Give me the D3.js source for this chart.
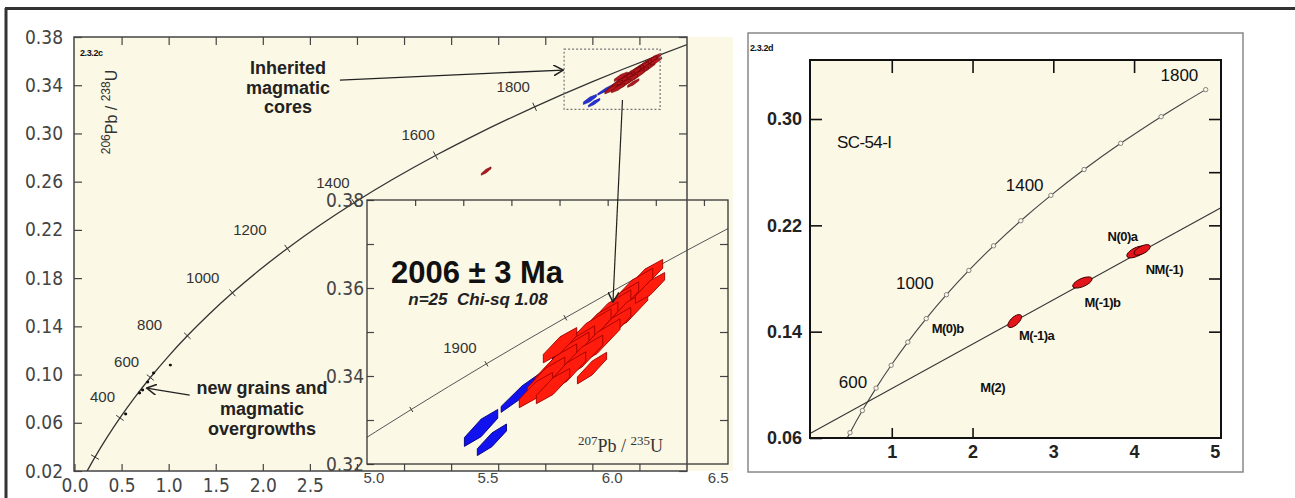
<!DOCTYPE html>
<meta charset="utf-8">
<script src="https://d3js.org/d3.v7.min.js"></script>
<style>
	body{
		margin:0;
		background:#fff;
		font-family:'Liberation Sans', Arial, sans-serif;
	}
	.ax line{ stroke:#444; stroke-width:1.2; }
	.rax line{ stroke:#111; stroke-width:1.6; }
</style>
<svg id="chart" width="1295" height="498"></svg>

<script>
	// concordia points (age in Ma, 207Pb/235U, 206Pb/238U)
	var concAge = [100,200,300,400,500,600,700,800,900,1000,1100,1200,1300,1400,1500,1600,1700,1750,1800,1850,1900,1950,2000,2050,2100]
	var concX = [0.1035,0.2177,0.3437,0.4828,0.6363,0.8056,0.9925,1.1987,1.4263,1.6774,1.9545,2.2603,2.5977,2.9701,3.3810,3.8344,4.3348,4.6040,4.8869,5.1840,5.4962,5.8241,6.1685,6.5303,6.9105]
	var concY = [0.01563,0.03151,0.04764,0.06402,0.08065,0.09754,0.11470,0.13213,0.14983,0.16780,0.18606,0.20460,0.22344,0.24256,0.26199,0.28172,0.30176,0.31189,0.32211,0.33240,0.34277,0.35323,0.36377,0.37439,0.38509]

	// left panel
	var mainTickAges = [200,400,600,800,1000,1200,1400,1600,1800]
	var mainLabels = ["400","600","800","1000","1200","1400","1600","1800"]
	var mainLabelX = [0.298,0.553,0.798,1.362,1.862,2.745,3.649,4.660]
	var mainLabelY = [0.0814,0.1104,0.1411,0.1801,0.2199,0.2589,0.2987,0.3385]
	var mainYTicks = [0.02,0.06,0.10,0.14,0.18,0.22,0.26,0.30,0.34,0.38]
	var mainXTicks = [0,0.5,1.0,1.5,2.0,2.5,3.0,3.5,4.0,4.5,5.0,5.5,6.0]

	// grains: [207/235, 206/238, sx, sy, rho]
	var newGrains = [[0.543,0.0673],[0.691,0.0847],[0.723,0.0872],[0.777,0.0938],[0.840,0.1013],[1.018,0.1079]]
	var blueGrains = [
		[5.474,0.3282,0.080,0.0042,0.88],
		[5.519,0.3255,0.070,0.0036,0.90],
		[5.644,0.3364,0.100,0.0048,0.96],
		[5.831,0.3470,0.070,0.0035,0.90]
	]
	var redGrains = [
		[6.155,0.3623,0.085,0.0042,0.88],
		[6.101,0.3595,0.100,0.0050,0.89],
		[6.051,0.3568,0.090,0.0046,0.89],
		[6.001,0.3541,0.110,0.0055,0.90],
		[5.956,0.3518,0.100,0.0050,0.89],
		[5.910,0.3493,0.120,0.0060,0.90],
		[5.868,0.3468,0.090,0.0046,0.89],
		[5.827,0.3445,0.110,0.0055,0.90],
		[5.785,0.3423,0.100,0.0050,0.89],
		[5.744,0.3398,0.090,0.0045,0.89],
		[5.702,0.3368,0.080,0.0040,0.88],
		[6.080,0.3545,0.100,0.0050,0.89],
		[6.018,0.3511,0.090,0.0045,0.89],
		[5.956,0.3475,0.110,0.0055,0.90],
		[5.893,0.3443,0.100,0.0050,0.89],
		[5.831,0.3409,0.090,0.0046,0.89],
		[5.773,0.3377,0.080,0.0040,0.88],
		[5.935,0.3418,0.070,0.0036,0.90],
		[5.802,0.3470,0.080,0.0040,0.88],
		[6.176,0.3600,0.070,0.0035,0.88],
		[4.372,0.2688,0.060,0.0035,0.90]
	]

	// inset
	var insetTickAges = [1850,1900,1950,2000]
	var insetYTicks = [0.32,0.33,0.34,0.35,0.36,0.37,0.38]
	var insetXLabels = [5.0,5.5,6.0,6.5]
	var insetTopTicks = [5.2,5.4,5.6,5.8,6.0,6.2,6.4]

	// right panel
	var rightDotAges = [400,500,600,700,800,900,1000,1100,1200,1300,1400,1500,1600,1700,1800]
	var rightAgeLabels = ["1800","1400","1000","600"]
	var rightAgeLabelX = [4.561,2.645,1.286,0.519]
	var rightAgeLabelY = [0.3331,0.2504,0.1766,0.1021]
	var rightGrainNames = ["N(0)a","NM(-1)","M(-1)b","M(-1)a","M(0)b","M(2)"]
	var rightGrainLabelX = [3.857,4.376,3.609,2.794,1.693,2.250]
	var rightGrainLabelY = [0.2120,0.1872,0.1623,0.1375,0.1428,0.0984]
	var rightGrains = [
		[2.522,0.1480,0.085,0.0049,0.65],
		[3.360,0.1770,0.120,0.0042,0.62],
		[4.030,0.2000,0.120,0.0045,0.62],
		[4.100,0.2015,0.100,0.0040,0.62]
	]
	var discordia = [[0,0.0638],[5.07,0.2331]]
	var rightYTicks = [0.06,0.14,0.22,0.30]
	var rightYTicksR = [0.14,0.18,0.22,0.26,0.30]
	var rightXTicks = [1,2,3,4,5]

	var cream = "#fcf8e6"
	var svg = d3.select("#chart")
	var defs = svg.append("defs")
	defs.append("marker").attr("id","arr").attr("viewBox","0 0 10 10").attr("refX",9).attr("refY",5)
		.attr("markerWidth",11).attr("markerHeight",11).attr("markerUnits","userSpaceOnUse").attr("orient","auto")
		.append("path").attr("d","M0,0L9,5L0,10").attr("fill","none").attr("stroke","#222").attr("stroke-width",1.4)

	function hexPath(g,xs,ys,n,phase){
		var s = Math.sqrt(1-g[4]*g[4])
		var pts = d3.range(n).map(function(i){
			var t = phase+i*2*Math.PI/n
			return [xs(g[0]+g[2]*Math.cos(t)), ys(g[1]+g[3]*(g[4]*Math.cos(t)+s*Math.sin(t)))]
		})
		return pts
	}
	function concLine(xs,ys,maxAge){
		var idx = d3.range(concAge.length).filter(function(i){return concAge[i]<=maxAge})
		return d3.line().x(function(i){return xs(concX[i])}).y(function(i){return ys(concY[i])})
			.curve(d3.curveCatmullRom)(idx)
	}
	function concTick(g,xs,ys,age,len){
		var i = concAge.indexOf(age)
		var dx = xs(concX[i+1])-xs(concX[i-1]), dy = ys(concY[i+1])-ys(concY[i-1])
		var l = Math.sqrt(dx*dx+dy*dy), nx = -dy/l*len, ny = dx/l*len
		var px = xs(concX[i]), py = ys(concY[i])
		g.append("line").attr("x1",px-nx).attr("y1",py-ny).attr("x2",px+nx).attr("y2",py+ny)
			.attr("stroke","#333").attr("stroke-width",1)
	}
	function text(g,x,y,str,size,opts){
		opts = opts||{}
		return g.append("text").attr("x",x).attr("y",y).text(str)
			.attr("font-size",size).attr("text-anchor",opts.anchor||"middle")
			.attr("font-weight",opts.weight||"normal").attr("font-style",opts.style||"normal")
			.attr("font-family",opts.family||"'Liberation Sans', Arial, sans-serif")
			.attr("fill",opts.fill||"#222")
	}

	// outer frame
	svg.append("line").attr("x1",5).attr("x2",1295).attr("y1",8.5).attr("y2",8.5).attr("stroke","#333").attr("stroke-width",3)
	svg.append("line").attr("x1",6).attr("x2",6).attr("y1",8).attr("y2",498).attr("stroke","#333").attr("stroke-width",3)

	// ---------------- left panel ----------------
	var mx = d3.scaleLinear().domain([0,6.5]).range([74.5,686.5])
	var my = d3.scaleLinear().domain([0.02,0.38]).range([471,37])
	var narrow = "'Liberation Sans Narrow','DejaVu Sans Condensed', sans-serif"

	svg.append("rect").attr("x",74).attr("y",37).attr("width",659).attr("height",434).attr("fill",cream)
	defs.append("clipPath").attr("id","mclip").append("rect").attr("x",74).attr("y",37).attr("width",613).attr("height",434)
	var main = svg.append("g")

	var yAxisL = d3.axisLeft(my).tickValues(mainYTicks).tickFormat(d3.format(".2f")).tickSize(-8).tickPadding(11)
	main.append("g").attr("class","ax").attr("transform","translate(74,0)").call(yAxisL)
	var yAxisR = d3.axisRight(my).tickValues(mainYTicks).tickFormat("").tickSize(-8)
	main.append("g").attr("class","ax").attr("transform","translate(687,0)").call(yAxisR)
	var xAxisT = d3.axisTop(mx).tickValues(mainXTicks.slice(1)).tickFormat("").tickSize(-8)
	main.append("g").attr("class","ax").attr("transform","translate(0,37)").call(xAxisT)
	var xAxisB = d3.axisBottom(mx).tickValues(mainXTicks)
		.tickFormat(function(d){return d<=2.5 ? d3.format(".1f")(d) : ""}).tickSize(-7).tickPadding(8)
	main.append("g").attr("class","ax").attr("transform","translate(0,471)").call(xAxisB)
	main.selectAll(".ax .domain").remove()
	main.selectAll(".ax text").attr("font-family",narrow).attr("font-size",19).attr("fill","#444")

	var mplot = main.append("g").attr("clip-path","url(#mclip)")
	mplot.append("path").attr("d",concLine(mx,my,2100)).attr("fill","none").attr("stroke","#333").attr("stroke-width",1.3)
	mainTickAges.forEach(function(a){ concTick(mplot,mx,my,a,4.5) })
	mainLabels.forEach(function(l,i){
		text(mplot,mx(mainLabelX[i]),my(mainLabelY[i])+5,l,15,{fill:"#333"})
	})
	mplot.selectAll(".ng").data(newGrains).enter().append("ellipse")
		.attr("cx",function(d){return mx(d[0])}).attr("cy",function(d){return my(d[1])})
		.attr("rx",1.6).attr("ry",1.4).attr("fill","#111")
	mplot.selectAll(".mb").data(blueGrains).enter().append("path")
		.attr("d",function(d){return "M"+hexPath(d,mx,my,6,Math.PI/6).join("L")+"Z"})
		.attr("fill","#2233d6").attr("stroke","#000088").attr("stroke-width",0.5)
	mplot.selectAll(".mr").data(redGrains).enter().append("path")
		.attr("d",function(d){return "M"+hexPath(d,mx,my,6,Math.PI/6).join("L")+"Z"})
		.attr("fill","#b3161c").attr("stroke","#5a0000").attr("stroke-width",0.5)

	// dotted box
	mplot.append("rect").attr("x",mx(5.2)).attr("y",my(0.37)).attr("width",mx(6.22)-mx(5.2)).attr("height",my(0.32)-my(0.37))
		.attr("fill","none").attr("stroke","#777").attr("stroke-width",1.2).attr("stroke-dasharray","2,2")

	// annotations
	var ann = [["Inherited",74],["magmatic",94],["cores",113]]
	ann.forEach(function(a){ text(main,288,a[1],a[0],18,{weight:"bold"}) })
	main.append("line").attr("x1",mx(2.819)).attr("y1",my(0.3443)).attr("x2",mx(5.191)).attr("y2",my(0.3526))
		.attr("stroke","#222").attr("stroke-width",1.3).attr("marker-end","url(#arr)")
	var ann2 = [["new grains and",394],["magmatic",415],["overgrowths",435]]
	ann2.forEach(function(a){ text(main,262,a[1],a[0],18,{weight:"bold"}) })
	main.append("line").attr("x1",mx(1.223)).attr("y1",my(0.083)).attr("x2",mx(0.766)).attr("y2",my(0.0888))
		.attr("stroke","#222").attr("stroke-width",1.3).attr("marker-end","url(#arr)")

	text(main,80,56,"2.3.2c",9,{anchor:"start",weight:"bold",fill:"#111"}).attr("letter-spacing",-0.4)
	var yl = main.append("text").attr("transform","translate(117,112) rotate(-90)").attr("text-anchor","middle")
		.attr("fill","#333").attr("font-size",16)
	yl.append("tspan").text("206").attr("font-size",12).attr("dy",-7)
	yl.append("tspan").text("Pb / ").attr("dy",7)
	yl.append("tspan").text("238").attr("font-size",12).attr("dy",-7)
	yl.append("tspan").text("U").attr("dy",7)

	// ---------------- inset ----------------
	var ix = d3.scaleLinear().domain([5.0,6.5]).range([367,728])
	var iy = d3.scaleLinear().domain([0.32,0.38]).range([464,200])
	var inset = svg.append("g")
	inset.append("rect").attr("x",367).attr("y",200).attr("width",361).attr("height",264).attr("fill",cream)
	defs.append("clipPath").attr("id","iclip").append("rect").attr("x",367).attr("y",200).attr("width",361).attr("height",264)

	var iyl = d3.axisLeft(iy).tickValues(insetYTicks)
		.tickFormat(function(d){return Math.round(d*100)%2==0 ? d3.format(".2f")(d) : ""}).tickSize(-7).tickPadding(3)
	inset.append("g").attr("class","ax").attr("transform","translate(367,0)").call(iyl)
	inset.append("g").attr("class","ax").attr("transform","translate(728,0)")
		.call(d3.axisRight(iy).tickValues(insetYTicks.slice(1,-1)).tickFormat("").tickSize(-8))
	inset.append("g").attr("class","ax").attr("transform","translate(0,200)")
		.call(d3.axisTop(ix).tickValues(insetTopTicks).tickFormat("").tickSize(-6))
	var ixl = inset.append("g").attr("class","ax").attr("transform","translate(0,471)")
		.call(d3.axisBottom(ix).tickValues(insetXLabels).tickFormat(d3.format(".1f")).tickSize(0).tickPadding(1))
	ixl.selectAll("text").attr("text-anchor",function(d){return d==5 ? "start" : d==6.5 ? "end" : "middle"})
		.attr("dx",function(d){return d==5 ? -4 : d==6 ? 4 : 0})
	inset.selectAll(".ax .domain").remove()
	inset.selectAll(".ax text").attr("font-size",15).attr("fill","#444")
	inset.selectAll(".ax text").filter(function(d){return d<1}).attr("font-family",narrow).attr("font-size",19)

	var iplot = inset.append("g").attr("clip-path","url(#iclip)")
	iplot.append("path").attr("d",concLine(ix,iy,2100)).attr("fill","none").attr("stroke","#555").attr("stroke-width",1)
	insetTickAges.forEach(function(a){ concTick(iplot,ix,iy,a,3) })
	iplot.selectAll(".ib").data(blueGrains).enter().append("path")
		.attr("d",function(d){return "M"+hexPath(d,ix,iy,6,Math.PI/6).join("L")+"Z"})
		.attr("fill","#1212ee").attr("stroke","#00007a").attr("stroke-width",0.9)
	iplot.selectAll(".ir").data(redGrains).enter().append("path")
		.attr("d",function(d){return "M"+hexPath(d,ix,iy,6,Math.PI/6).join("L")+"Z"})
		.attr("fill","#ff1c0c").attr("stroke","#a00000").attr("stroke-width",0.9)
	inset.append("rect").attr("x",367).attr("y",200).attr("width",361).attr("height",264)
		.attr("fill","none").attr("stroke","#333").attr("stroke-width",1.3)

	text(inset,ix(5.386),iy(0.3464)+5,"1900",15,{fill:"#333"})
	text(inset,477,283,"2006 ± 3 Ma",31,{weight:"bold",fill:"#111"})
	text(inset,478,305,"n=25  Chi-sq 1.08",17,{weight:"bold",style:"italic",fill:"#222"}).style("white-space","pre")
	var xl = inset.append("text").attr("x",578).attr("y",452).attr("font-family","'Liberation Serif', serif")
		.attr("font-size",18).attr("fill","#333")
	xl.append("tspan").text("207").attr("font-size",13).attr("dy",-7)
	xl.append("tspan").text("Pb / ").attr("dy",7)
	xl.append("tspan").text("235").attr("font-size",13).attr("dy",-7)
	xl.append("tspan").text("U").attr("dy",7)

	// left panel frame on top
	svg.append("rect").attr("x",74).attr("y",37).attr("width",613).attr("height",434)
		.attr("fill","none").attr("stroke","#444").attr("stroke-width",1.5)
	svg.append("line").attr("x1",mx(5.82)).attr("y1",my(0.3277)).attr("x2",ix(6.022)).attr("y2",iy(0.3568))
		.attr("stroke","#222").attr("stroke-width",1.2).attr("marker-end","url(#arr)")

	// ---------------- right panel ----------------
	var rx = d3.scaleLinear().domain([0,5.07]).range([811,1220.5])
	var ry = d3.scaleLinear().domain([0.06,0.3444]).range([438,60])
	svg.append("rect").attr("x",748).attr("y",33).attr("width",495).attr("height",439)
		.attr("fill","#fff").attr("stroke","#888").attr("stroke-width",1.5)
	svg.append("rect").attr("x",810).attr("y",60).attr("width",411).attr("height",378).attr("fill",cream)
	defs.append("clipPath").attr("id","rclip").append("rect").attr("x",810).attr("y",60).attr("width",411).attr("height",378)
	var right = svg.append("g")
	right.append("g").attr("class","rax").attr("transform","translate(810,0)")
		.call(d3.axisLeft(ry).tickValues(rightYTicks).tickFormat(d3.format(".2f")).tickSize(-12).tickPadding(8))
	right.append("g").attr("class","rax").attr("transform","translate(1221,0)")
		.call(d3.axisRight(ry).tickValues(rightYTicksR).tickFormat("").tickSize(-12))
	right.append("g").attr("class","rax").attr("transform","translate(0,60)")
		.call(d3.axisTop(rx).tickValues(rightXTicks.slice(0,4)).tickFormat("").tickSize(-13))
	right.append("g").attr("class","rax").attr("transform","translate(0,438)")
		.call(d3.axisBottom(rx).tickValues(rightXTicks.slice(0,2)).tickFormat("").tickSize(-10))
	right.append("g").attr("class","rax").attr("transform","translate(0,438)")
		.call(d3.axisBottom(rx).tickValues(rightXTicks).tickFormat(d3.format("d")).tickSize(0).tickPadding(7))
	right.selectAll(".rax .domain").remove()
	right.selectAll(".rax text").attr("font-size",18).attr("font-weight","bold").attr("fill","#222")

	var rplot = right.append("g").attr("clip-path","url(#rclip)")
	rplot.append("path").attr("d",concLine(rx,ry,1800)).attr("fill","none").attr("stroke","#444").attr("stroke-width",1.1)
	rplot.append("path").attr("d",d3.line().x(function(d){return rx(d[0])}).y(function(d){return ry(d[1])})(discordia))
		.attr("fill","none").attr("stroke","#333").attr("stroke-width",1.1)
	rplot.selectAll(".rd").data(rightDotAges).enter().append("circle")
		.attr("cx",function(a){return rx(concX[concAge.indexOf(a)])}).attr("cy",function(a){return ry(concY[concAge.indexOf(a)])})
		.attr("r",2.2).attr("fill",cream).attr("stroke","#777").attr("stroke-width",0.9)
	rplot.selectAll(".rg").data(rightGrains).enter().append("path")
		.attr("d",function(d){return d3.line().curve(d3.curveCardinalClosed)(hexPath(d,rx,ry,24,0))})
		.attr("fill","#e3141a").attr("stroke","#3a0000").attr("stroke-width",1)
	rightAgeLabels.forEach(function(l,i){
		text(right,rx(rightAgeLabelX[i]),ry(rightAgeLabelY[i])+6,l,17,{fill:"#111"})
	})
	text(right,837,148,"SC-54-I",17,{anchor:"start",fill:"#111"}).attr("letter-spacing",-0.6)
	rightGrainNames.forEach(function(l,i){
		text(right,rx(rightGrainLabelX[i]),ry(rightGrainLabelY[i])+5,l,13,{weight:"bold",fill:"#111"}).attr("letter-spacing",-0.5)
	})
	right.append("rect").attr("x",810).attr("y",60).attr("width",411).attr("height",378)
		.attr("fill","none").attr("stroke","#111").attr("stroke-width",2)
	text(right,750,51,"2.3.2d",9,{anchor:"start",weight:"bold",fill:"#111"}).attr("letter-spacing",-0.4)
</script>
